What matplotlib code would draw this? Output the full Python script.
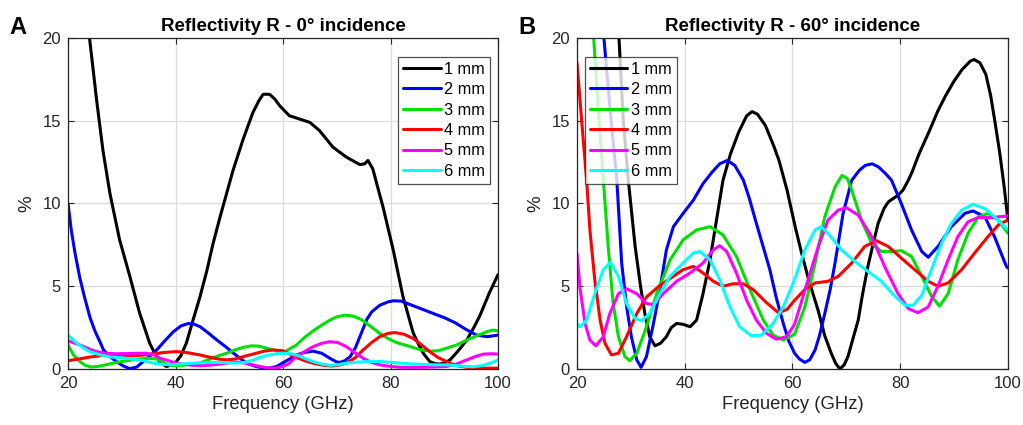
import matplotlib
matplotlib.use("Agg")
import matplotlib.pyplot as plt

plt.rcParams['font.family'] = ['Liberation Sans', 'DejaVu Sans']

labels = ["1 mm", "2 mm", "3 mm", "4 mm", "5 mm", "6 mm"]
colors = ["#000000", "#0000ff", "#00e000", "#ff0000", "#ff00ff", "#00ffff"]

# ---------------- Panel A: 0 deg incidence ----------------
a1_x = [20, 22, 24, 25.3, 26.5, 27.8, 29.6, 31.5, 33.3, 35.2, 36.2, 37.1, 38.3, 39.8, 41, 42, 43.3, 44.5, 45.8, 47, 48.3, 49.5, 50.7, 52.6, 54.4, 55.5, 56.3, 57.5, 58.5, 59.4, 61.2, 63.1, 65, 66.8, 69.3, 71.8, 74.3, 75.2, 75.8, 76.7, 77.6, 78.6, 80.5, 82.3, 84.2, 85.2, 86.1, 87.3, 88.3, 89.2, 90.2, 91.1, 92.6, 94.2, 95.5, 96.6, 98.4, 100]
a1_y = [32, 26, 20, 16.3, 13.2, 10.6, 7.8, 5.6, 3.4, 1.55, 0.9, 0.4, 0.15, 0.3, 0.8, 1.55, 3.0, 4.3, 5.9, 7.6, 9.2, 10.6, 12.0, 13.9, 15.5, 16.2, 16.6, 16.6, 16.3, 15.9, 15.3, 15.1, 14.9, 14.4, 13.4, 12.8, 12.35, 12.4, 12.6, 12.1, 11.0, 9.8, 7.2, 4.4, 2.2, 1.5, 0.95, 0.45, 0.32, 0.3, 0.38, 0.55, 1.1, 1.75, 2.5, 3.2, 4.6, 5.7]

a2_x = [20, 20.6, 21.3, 22.2, 23.1, 24.1, 25, 26, 26.6, 27.8, 29, 30.3, 31.5, 32.8, 34, 35.3, 36.5, 38, 39.6, 41, 42.4, 43.5, 44.6, 46, 47.7, 49.3, 50.8, 52, 53.2, 55, 57, 58.8, 60.4, 62.5, 64, 65.6, 67.2, 68.7, 70, 70.6, 71.5, 72.5, 73.5, 74.3, 75.6, 76.5, 78, 79.5, 80.5, 82, 84, 86, 88, 90, 92, 94, 96, 98, 100]
a2_y = [10.0, 8.4, 7.0, 5.5, 4.3, 3.1, 2.3, 1.6, 1.15, 0.75, 0.45, 0.18, 0.02, 0.12, 0.45, 0.8, 1.15, 1.7, 2.25, 2.6, 2.75, 2.7, 2.55, 2.2, 1.75, 1.35, 0.95, 0.65, 0.35, 0.15, 0.02, 0.15, 0.45, 0.85, 1.0, 1.08, 0.95, 0.65, 0.42, 0.4, 0.5, 0.75, 1.3, 1.95, 3.0, 3.45, 3.85, 4.05, 4.12, 4.1, 3.85, 3.6, 3.35, 3.1, 2.8, 2.4, 2.05, 1.95, 2.05]

a3_x = [20, 21, 22.2, 23.2, 24.3, 25.5, 27, 29, 31, 33, 35, 36.5, 38, 39.4, 41, 43, 44.5, 46.4, 48, 49.5, 51, 52.5, 54.2, 55.5, 57, 58.8, 60.4, 62.5, 64, 65.6, 67.2, 68.7, 70, 71.5, 73, 74.5, 76.2, 78, 79.5, 81.1, 82.7, 84.2, 85.7, 87.3, 88.8, 90.4, 92.3, 94.2, 96, 97.9, 99, 100]
a3_y = [1.45, 0.85, 0.45, 0.22, 0.12, 0.15, 0.25, 0.4, 0.5, 0.6, 0.65, 0.6, 0.35, 0.2, 0.2, 0.3, 0.35, 0.6, 0.8, 0.95, 1.15, 1.3, 1.4, 1.38, 1.25, 1.1, 1.05, 1.45, 1.9, 2.3, 2.65, 2.95, 3.15, 3.25, 3.2, 3.0, 2.6, 2.15, 1.85, 1.6, 1.45, 1.3, 1.15, 1.08, 1.1, 1.25, 1.45, 1.75, 2.0, 2.25, 2.35, 2.3]

a4_x = [20, 22, 24, 26, 28, 30, 32, 34, 36, 38, 40.2, 42, 44.5, 46.5, 48, 49.5, 51, 53.2, 55, 56.5, 58.2, 60, 62.5, 64, 65.6, 67, 68.7, 70, 71.8, 73.5, 74.9, 76.5, 78, 79.5, 80.8, 82.5, 84.2, 85.8, 87.3, 88.8, 90.4, 92.3, 94.2, 96, 98, 100]
a4_y = [0.5, 0.6, 0.72, 0.8, 0.85, 0.8, 0.78, 0.85, 0.92, 1.0, 1.05, 1.0, 0.85, 0.7, 0.6, 0.55, 0.6, 0.8, 0.95, 1.08, 1.15, 1.1, 0.7, 0.5, 0.35, 0.25, 0.18, 0.2, 0.35, 0.7, 1.15, 1.6, 1.95, 2.15, 2.2, 2.1, 1.85, 1.45, 1.05, 0.7, 0.45, 0.2, 0.1, 0.06, 0.05, 0.05]

a5_x = [20, 22.2, 24, 25.3, 27, 29, 30.9, 33, 34.6, 36, 37.1, 38.7, 40.2, 41.5, 43.3, 45, 47, 48.3, 50, 51.4, 53, 54.3, 55.7, 57, 58.3, 59.4, 61, 62.5, 64, 65.6, 67.2, 68.7, 70.2, 71.8, 73.3, 74.9, 76.4, 78, 80, 82, 84.2, 86, 88, 90.4, 92.3, 94.2, 95.8, 97.3, 99, 100]
a5_y = [1.7, 1.45, 1.2, 1.05, 0.95, 0.92, 0.93, 0.95, 0.95, 0.85, 0.65, 0.5, 0.35, 0.28, 0.22, 0.2, 0.25, 0.3, 0.38, 0.42, 0.35, 0.25, 0.15, 0.08, 0.05, 0.1, 0.3, 0.75, 1.05, 1.35, 1.55, 1.65, 1.6, 1.35, 1.0, 0.65, 0.4, 0.25, 0.15, 0.1, 0.1, 0.1, 0.12, 0.15, 0.3, 0.55, 0.75, 0.9, 0.92, 0.9]

a6_x = [20, 21.5, 22.5, 24, 26, 28, 30, 32, 34, 35.9, 37.5, 39, 41, 43.3, 45.5, 47.7, 49.5, 51.4, 53, 54.5, 55.7, 57.5, 59.4, 61, 62.5, 64, 65.6, 67.2, 68.7, 70, 71.8, 74, 76, 78, 80, 82, 84.2, 86.5, 88.5, 90.4, 92.3, 94.2, 95.4, 97, 99, 100]
a6_y = [2.05, 1.6, 1.35, 1.05, 0.85, 0.72, 0.68, 0.6, 0.5, 0.35, 0.28, 0.25, 0.3, 0.35, 0.38, 0.4, 0.38, 0.35, 0.4, 0.55, 0.7, 0.85, 0.95, 0.95, 0.85, 0.65, 0.45, 0.3, 0.22, 0.25, 0.35, 0.42, 0.45, 0.45, 0.4, 0.35, 0.3, 0.27, 0.25, 0.25, 0.2, 0.15, 0.13, 0.2, 0.4, 0.55]

# ---------------- Panel B: 60 deg incidence ----------------
b1_x = [20, 24, 26, 27, 27.8, 28.6, 29.5, 30.8, 31.8, 32.6, 33.5, 34.5, 35.5, 36.6, 37.5, 38.5, 39.7, 41, 42.2, 43.4, 44.7, 45.9, 47.1, 48.5, 50, 51.5, 52.5, 53.5, 55, 56.5, 57.5, 59, 60.5, 61.7, 63, 64.8, 66, 67.2, 68, 68.8, 69.6, 70.3, 71.2, 72.2, 73, 74, 75, 75.9, 77, 77.8, 79.6, 80.5, 81.5, 82.2, 83.5, 85.3, 87, 88.4, 90, 91.5, 93, 93.7, 94.8, 95.9, 96.8, 97.7, 98.5, 99.3, 100]
b1_y = [60, 50, 40, 30, 20, 15, 11.5, 7.4, 5, 3.35, 1.95, 1.4, 1.55, 1.95, 2.5, 2.75, 2.7, 2.55, 2.95, 4.55, 6.6, 9.0, 11.4, 13, 14.3, 15.3, 15.55, 15.4, 14.7, 13.5, 12.6, 10.8, 8.6, 7.0, 5.4, 3.5, 2.0, 0.95, 0.35, 0.0, 0.25, 0.75, 1.8, 2.95, 4.5, 6.2, 7.6, 8.8, 9.7, 10.1, 10.5, 10.8, 11.4, 11.9, 13, 14.3, 15.6, 16.5, 17.4, 18.1, 18.6, 18.7, 18.5, 17.8, 16.5, 14.7, 13, 11, 9.0]

b2_x = [20, 24, 25, 26.2, 27.4, 28.3, 29.2, 30.1, 31.1, 31.9, 32.9, 34.2, 35.4, 36.6, 37.9, 39.7, 41.6, 43.4, 45.1, 46.5, 47.9, 49.3, 50.9, 52, 53.3, 55.8, 57, 58.3, 59.3, 60.4, 61.3, 62.3, 63.2, 64.2, 65, 66, 67, 67.9, 69.4, 71, 72.4, 73.5, 74.8, 76, 77.3, 78.4, 80.2, 82.1, 84, 85.2, 87, 89.5, 92, 93.5, 95.7, 97.5, 99.7, 100]
b2_y = [40, 26, 20, 15.5, 11.4, 6.4, 3.8, 1.95, 0.55, 0.1, 0.75, 2.75, 4.8, 7.2, 8.6, 9.4, 10.2, 11.2, 11.9, 12.4, 12.6, 12.3, 11.4, 10.3, 8.8, 6.0, 4.3, 2.75, 1.7, 0.95, 0.6, 0.4, 0.55, 1.15, 2.0, 3.35, 4.8, 6.4, 9.4, 11.4, 12.0, 12.3, 12.4, 12.2, 11.8, 11.4, 10.0, 8.4, 7.1, 6.75, 7.4, 8.6, 9.4, 9.55, 9.2, 8.0, 6.2, 6.1]

b3_x = [20, 22.5, 23.1, 24, 24.9, 25.8, 26.7, 27.7, 28.9, 29.8, 31.1, 32.9, 34.8, 37.3, 39.7, 42.2, 44.7, 47.1, 49.6, 52.1, 54.6, 56.4, 58.3, 60.4, 62.3, 64.2, 66, 67.9, 69.2, 70.2, 71, 72.8, 74.7, 76.5, 78.4, 80.2, 82.1, 84, 85.8, 87.3, 88.9, 90.7, 92.6, 94.5, 96.3, 98.2, 100]
b3_y = [40, 24, 20, 15.5, 11.4, 7.4, 4.0, 1.95, 0.75, 0.5, 0.95, 2.55, 4.55, 6.6, 7.8, 8.4, 8.6, 8.1, 6.8, 4.8, 2.95, 2.05, 1.75, 2.1, 3.75, 6.4, 9.2, 11.0, 11.7, 11.5, 10.8, 9.0, 7.6, 7.1, 7.1, 7.15, 6.8, 5.6, 4.4, 3.8, 4.55, 6.6, 8.2, 9.2, 9.4, 9.0, 8.2]

b4_x = [20, 20.5, 21, 21.8, 22.4, 23.3, 24.3, 25.2, 26.4, 27.7, 29.2, 31.1, 32.9, 35.4, 37.9, 39.7, 41.6, 43.4, 45.3, 47.1, 49, 50.9, 52.7, 55.2, 57.4, 59, 60.4, 62.3, 64.2, 66.6, 68.5, 71, 73.4, 75.6, 77.8, 80.2, 82.7, 85.2, 87, 88.9, 91.4, 93.8, 96.3, 98.2, 100]
b4_y = [18.5, 16.5, 14.5, 11.4, 8.4, 5.4, 2.95, 1.55, 0.85, 0.95, 1.95, 3.35, 4.35, 5.05, 5.6, 6.0, 6.2, 5.8, 5.3, 5.0, 5.15, 5.15, 4.8, 4.0, 3.4, 3.6, 4.15, 4.8, 5.2, 5.3, 5.6, 6.4, 7.4, 7.75, 7.4, 6.7, 6.0, 5.3, 5.0, 5.2, 6.0, 7.0, 8.0, 8.7, 9.0]

b5_x = [20, 20.6, 21.5, 22.4, 23.5, 24.9, 26.1, 27.7, 29.2, 31.1, 32.9, 34.2, 36, 38.5, 41, 43.4, 45.3, 46.5, 47.8, 49.6, 51.5, 53.3, 55.2, 57, 58.9, 60.4, 61.7, 62.9, 64.8, 66.6, 68.5, 70, 72.2, 74.7, 77.1, 79.6, 81.5, 83.3, 85.2, 87, 88.9, 90.7, 92.6, 94.5, 96.9, 100]
b5_y = [7.0, 4.8, 2.75, 1.75, 1.4, 1.95, 3.35, 4.55, 4.85, 4.55, 3.95, 3.9, 4.55, 5.3, 5.8, 6.4, 7.2, 7.45, 7.1, 5.8, 4.15, 2.95, 2.15, 1.8, 1.95, 2.7, 4.1, 5.4, 7.4, 9.0, 9.6, 9.75, 9.3, 8.0, 6.2, 4.55, 3.65, 3.4, 3.75, 5.0, 6.6, 8.0, 8.9, 9.15, 9.15, 9.25]

b6_x = [20, 20.6, 21.8, 23.3, 24.9, 26.2, 27.7, 29.2, 30.8, 32, 33.5, 35.4, 37.3, 39.7, 41.6, 42.8, 44.7, 46.5, 48.4, 50.2, 52.4, 54.3, 56.4, 58.3, 60.4, 62.3, 64.2, 65.3, 66.6, 69.1, 71.6, 74, 76.5, 79, 80.9, 82.4, 84, 85.8, 87.7, 89.5, 91.4, 93.5, 95.7, 97.5, 100]
b6_y = [2.75, 2.55, 2.95, 4.55, 6.0, 6.45, 5.6, 3.95, 3.05, 2.9, 3.35, 4.55, 5.6, 6.4, 7.0, 7.1, 6.6, 5.4, 3.75, 2.55, 2.0, 2.05, 2.75, 3.75, 5.4, 7.2, 8.4, 8.6, 8.2, 7.2, 6.5, 5.9, 5.3, 4.4, 3.85, 3.85, 4.45, 6.0, 7.6, 8.8, 9.6, 9.95, 9.7, 9.2, 8.4]

x_ticks = [20, 40, 60, 80, 100]
y_ticks = [0, 5, 10, 15, 20]

panels = [
    dict(title="Reflectivity R - 0\u00b0 incidence", tag="A",
         series=[(a1_x, a1_y), (a2_x, a2_y), (a3_x, a3_y), (a4_x, a4_y), (a5_x, a5_y), (a6_x, a6_y)],
         rect=[0.0665, 0.1318, 0.4203, 0.7788],
         leg=dict(loc="upper right", bbox_to_anchor=(0.981, 0.943))),
    dict(title="Reflectivity R - 60\u00b0 incidence", tag="B",
         series=[(b1_x, b1_y), (b2_x, b2_y), (b3_x, b3_y), (b4_x, b4_y), (b5_x, b5_y), (b6_x, b6_y)],
         rect=[0.564, 0.1318, 0.4213, 0.7788],
         leg=dict(loc="upper left", bbox_to_anchor=(0.018, 0.943))),
]

fig = plt.figure(figsize=(10.23, 4.25), dpi=100)
tick_col = "#262626"

for p in panels:
    ax = fig.add_axes(p["rect"])
    for (xs, ys), c, lab in zip(p["series"], colors, labels):
        ax.plot(xs, ys, color=c, lw=2.2, label=lab,
                solid_joinstyle="round", solid_capstyle="round")
    ax.set_xlim(20, 100)
    ax.set_ylim(0, 20)
    ax.set_xticks(x_ticks)
    ax.set_yticks(y_ticks)
    ax.grid(True, color="#dcdcdc", lw=0.9)
    ax.set_axisbelow(True)
    ax.tick_params(direction="in", top=True, right=True, length=4,
                   labelsize=12, colors=tick_col, pad=5)
    for s in ax.spines.values():
        s.set_color(tick_col)
        s.set_linewidth(0.9)
    ax.set_xlabel("Frequency (GHz)", fontsize=13.3, color=tick_col, labelpad=4)
    ax.set_ylabel("%", fontsize=13.5, color=tick_col, labelpad=5)
    ax.set_title(p["title"], fontsize=13.5, fontweight="bold", pad=5)
    leg = ax.legend(fontsize=11.8, frameon=True, fancybox=False, edgecolor="#262626",
                    handlelength=2.3, handletextpad=0.2, labelspacing=0.33,
                    borderpad=0.3, borderaxespad=0.0, **p["leg"])
    leg.get_frame().set_linewidth(0.9)
    pos = p["rect"]
    fig.text(pos[0] - 0.057, 0.935, p["tag"], fontsize=17, fontweight="bold",
             ha="left", va="center")

fig.savefig("out.png", dpi=100)
